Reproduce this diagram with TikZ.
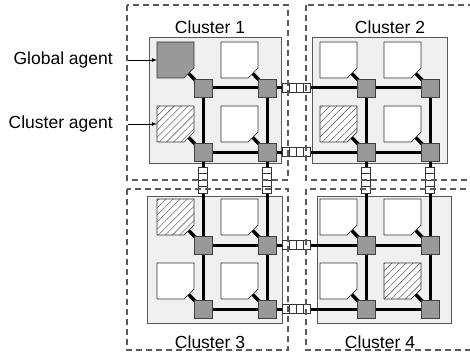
\documentclass[tikz,border=0pt]{standalone}
\usepackage{fontspec}
\setmainfont{Liberation Sans}
\usepackage{tikz}
\usetikzlibrary{arrows}
\usetikzlibrary{calc}
\usetikzlibrary{positioning}
\usetikzlibrary{patterns.meta}
\usepackage[dvipsnames]{xcolor}
\definecolor{panelfill}{RGB}{240,240,240}
\definecolor{routerfill}{RGB}{153,153,153}
\definecolor{regionline}{RGB}{90,90,90}
\pgfdeclarelayer{panels}
\pgfdeclarelayer{wires}
\pgfsetlayers{panels,wires,main}

\begin{document}
\begin{tikzpicture}[x=1pt,y=-1pt,
    region/.style={draw=regionline,line width=1.2pt,dash pattern=on 6pt off 4pt},
    panel/.style={draw=black!65,fill=panelfill,line width=0.7pt},
    router/.style={draw=black!75,fill=routerfill,line width=0.7pt,minimum size=18pt,inner sep=0pt},
    core/.style={rectangle,minimum width=37pt,minimum height=36pt,inner sep=0pt,outer sep=0pt},
    corebody/.style={draw=black!80,fill=white,line width=0.7pt},
    global/.style={fill=routerfill},
    hatched/.style={preaction={fill=white},pattern={Lines[angle=45,distance=5pt,line width=0.4pt]},pattern color=black!75},
    kind1-0-0/.style={global},
    kind1-0-1/.style={hatched},
    kind2-0-1/.style={hatched},
    kind3-0-0/.style={hatched},
    kind4-1-1/.style={hatched},
    link/.style={line width=3pt},
    tap/.style={line width=3.5pt},
    hbuf/.style={draw=black!80,fill=white,line width=0.7pt,minimum width=28pt,minimum height=9pt,inner sep=0pt,
      path picture={\foreach \k in {1,2,3}
        \draw[line width=0.7pt] ([xshift=\k*7pt]path picture bounding box.north west) -- ([xshift=\k*7pt]path picture bounding box.south west);}},
    vbuf/.style={draw=black!80,fill=white,line width=0.7pt,minimum width=9pt,minimum height=26pt,inner sep=0pt,
      path picture={\foreach \k in {1,2,3}
        \draw[line width=0.7pt] ([yshift=-\k*6.5pt]path picture bounding box.north west) -- ([yshift=-\k*6.5pt]path picture bounding box.north east);}},
    txt/.style={font=\fontsize{17.5}{21}\selectfont,inner sep=1pt},
    pointer/.style={-latex,line width=0.8pt}]
  \clip (0,0) rectangle (470,358);

  % cluster panels
  \begin{pgfonlayer}{panels}
    \draw[panel] (149,37) rectangle (281,163);
    \draw[panel] (312,37) rectangle (447,163);
    \draw[panel] (147,196) rectangle (282,323);
    \draw[panel] (317,196) rectangle (451,323);
  \end{pgfonlayer}

  % routers and cores (corner cut at south east), 2x2 per cluster
  \foreach \cl/\ox/\oy in {1/203/88, 2/366/88, 3/203/245, 4/366/245}{
    \foreach \i in {0,1}{
      \foreach \j in {0,1}{
        \node[router] (r\cl-\i-\j) at (\ox+64*\i,\oy+64*\j) {};
        \node[core] (c\cl-\i-\j) at ($(r\cl-\i-\j)+(-27.5,-28)$) {};
        \path[corebody,kind\cl-\i-\j/.try] (c\cl-\i-\j.north west) -- (c\cl-\i-\j.north east)
          -- ([yshift=10pt]c\cl-\i-\j.south east) -- ([xshift=-10pt]c\cl-\i-\j.south east)
          -- (c\cl-\i-\j.south west) -- cycle;
      }
    }
  }

  % mesh links
  \begin{pgfonlayer}{wires}
    \foreach \cl in {1,...,4}{
      \draw[link] (r\cl-0-0.center) -- (r\cl-1-0.center) -- (r\cl-1-1.center) -- (r\cl-0-1.center) -- cycle;
      \foreach \i in {0,1}
        \foreach \j in {0,1}
          \draw[tap] (c\cl-\i-\j.center) -- (r\cl-\i-\j.center);
    }
    \foreach \j in {0,1}{
      \draw[link] (r1-1-\j.center) -- (r2-0-\j.center);
      \draw[link] (r3-1-\j.center) -- (r4-0-\j.center);
    }
    \foreach \i in {0,1}{
      \draw[link] (r1-\i-1.center) -- (r3-\i-0.center);
      \draw[link] (r2-\i-1.center) -- (r4-\i-0.center);
    }
  \end{pgfonlayer}

  % buffers between clusters
  \foreach \j in {0,1}{
    \node[hbuf] (hb1-\j) at ($(r1-1-\j)+(29,0)$) {};
    \node[hbuf] (hb3-\j) at ($(r3-1-\j)+(29,0)$) {};
  }
  \foreach \i in {0,1}{
    \node[vbuf] (vb1-\i) at ($(r1-\i-1)+(0,28)$) {};
    \node[vbuf] (vb2-\i) at ($(r2-\i-1)+(0,28)$) {};
  }

  % cluster regions
  \draw[region] (127,5) rectangle (288,180);
  \draw[region] (306,5) rectangle (480,180);
  \draw[region] (127,189) rectangle (288,350);
  \draw[region] (306,189) rectangle (480,350);

  \node[txt] (t1) at (210,27) {Cluster 1};
  \node[txt] (t2) at (390,27) {Cluster 2};
  \node[txt] (t3) at (210,342) {Cluster 3};
  \node[txt] (t4) at (380,342) {Cluster 4};

  % agents
  \coordinate (ga) at ($(c1-0-0.west)+(-29,0)$);
  \coordinate (ca) at ($(c1-0-1.west)+(-29,0)$);
  \node[txt,left=14pt of ga] (gl) {Global agent};
  \node[txt,left=14pt of ca] (cl) {Cluster agent};
  \draw[pointer] (ga) -- (c1-0-0.west);
  \draw[pointer] (ca) -- (c1-0-1.west);
\end{tikzpicture}
\end{document}
